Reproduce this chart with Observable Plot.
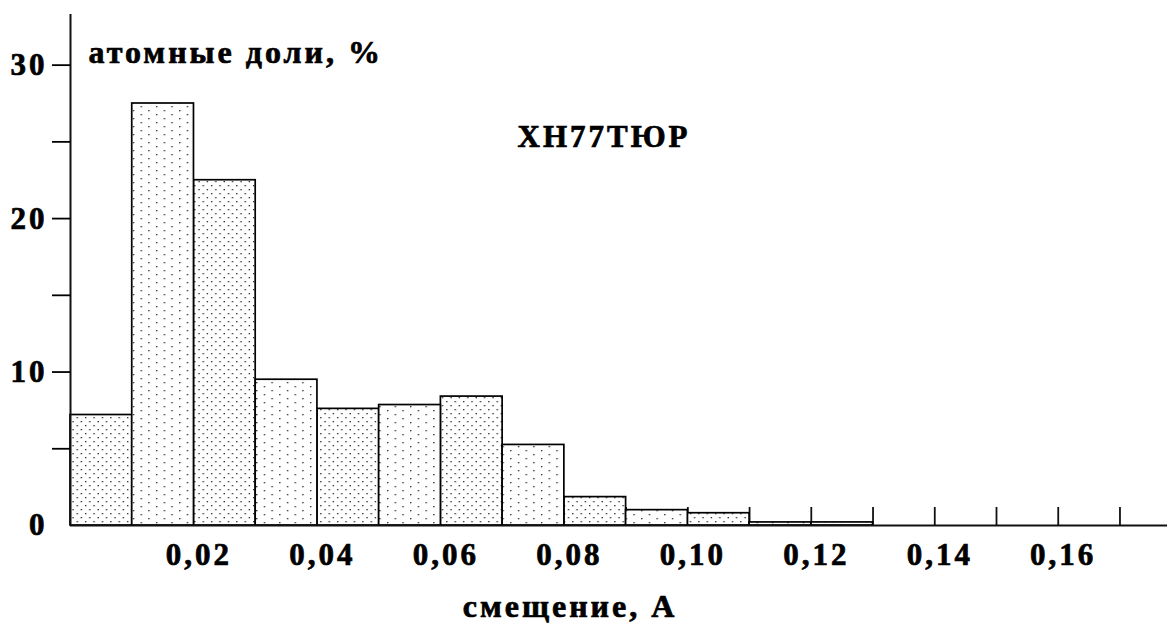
<!DOCTYPE html>
<html><head><meta charset="utf-8">
<script src="https://cdn.jsdelivr.net/npm/d3@7"></script>
<script src="https://cdn.jsdelivr.net/npm/@observablehq/plot@0.6"></script>
<style>
body{margin:0;background:#fff;}
#chart svg, #chart svg text { font-family: "Liberation Serif", "Times New Roman", serif !important; font-weight: bold; }
#chart svg text { letter-spacing: 3px; stroke: #000; stroke-width: 0.7px; }
</style>
</head><body><div id="chart"></div>
<script>
// bins of displacement (Å) and atomic share (%)
const binStart = [0, 0.01, 0.02, 0.03, 0.04, 0.05, 0.06, 0.07, 0.08, 0.09, 0.10, 0.11, 0.12];
const binEnd   = [0.01, 0.02, 0.03, 0.04, 0.05, 0.06, 0.07, 0.08, 0.09, 0.10, 0.11, 0.12, 0.13];
const share    = [7.2, 27.5, 22.5, 9.5, 7.6, 7.85, 8.4, 5.25, 1.85, 1.0, 0.8, 0.2, 0.2];
const xTicks = [0.01,0.02,0.03,0.04,0.05,0.06,0.07,0.08,0.09,0.10,0.11,0.12,0.13,0.14,0.15,0.16,0.17];
const xTickLabels = [0.02, 0.04, 0.06, 0.08, 0.10, 0.12, 0.14, 0.16];
const yTicks = [5, 10, 15, 20, 25, 30];
const yTickLabels = [0, 10, 20, 30];
const yTitle = "атомные доли, %";
const xTitle = "смещение, А";
const alloy = "ХН77ТЮР";

const bars = binStart.map((s, i) => ({x1: s, x2: binEnd[i], y: share[i], i}));
const font = "Liberation Serif";

const plot = Plot.plot({
  width: 1167, height: 624,
  marginLeft: 70, marginRight: 0, marginTop: 14, marginBottom: 99,
  style: {fontFamily: font, fontWeight: "bold", color: "#000", background: "#fff"},
  x: {domain: [0, 0.1777], axis: null},
  y: {domain: [0, 33.3]},
  marks: [
    Plot.tickX(xTicks, {x: d => d, insetTop: 493, stroke: "#111", strokeWidth: 1.8}),
    Plot.rectY(bars.filter(d => d.i % 2 === 0), {x1: "x1", x2: "x2", y: "y", fill: "url(#dotsDense)", stroke: "#000", strokeWidth: 1.7}),
    Plot.rectY(bars.filter(d => d.i % 2 === 1), {x1: "x1", x2: "x2", y: "y", fill: "url(#dotsSparse)", stroke: "#000", strokeWidth: 1.7}),
    Plot.ruleY([0], {stroke: "#111", strokeWidth: 2}),
    Plot.ruleX([0], {stroke: "#111", strokeWidth: 2}),
    Plot.axisY({ticks: yTicks, tickSize: 18, tickFormat: () => "", strokeWidth: 1.8, label: null}),
    Plot.axisY({ticks: yTickLabels, tickSize: 0, tickPadding: 23, fontSize: 31, fontFamily: font, label: null}),
    Plot.text(xTickLabels, {x: d => d, frameAnchor: "bottom", dx: 5, dy: 39, lineAnchor: "bottom",
      text: d => d.toFixed(2).replace(".", ","), fontSize: 31, fontFamily: font, fill: "#000"}),
    Plot.text([yTitle], {frameAnchor: "top-left", dx: 18, dy: 48, textAnchor: "start", lineAnchor: "bottom", fontSize: 32, fontFamily: font, fill: "#000"}),
    Plot.text([alloy], {frameAnchor: "top-left", dx: 447, dy: 132, textAnchor: "start", lineAnchor: "bottom", fontSize: 31, fontFamily: font, fill: "#000"}),
    Plot.text([xTitle], {frameAnchor: "bottom", dx: -49, dy: 91, lineAnchor: "bottom", fontSize: 32, fontFamily: font, fill: "#000"})
  ]
});

const svg = d3.select(plot);
const defs = svg.insert("defs", ":first-child");
const dense = defs.append("pattern").attr("id", "dotsDense").attr("patternUnits", "userSpaceOnUse")
  .attr("width", 8.4).attr("height", 8);
dense.append("rect").attr("width", 8.4).attr("height", 8).attr("fill", "#fff");
dense.append("rect").attr("x", 1).attr("y", 1).attr("width", 1.3).attr("height", 1.3).attr("fill", "#222");
dense.append("rect").attr("x", 5.2).attr("y", 5).attr("width", 1.3).attr("height", 1.3).attr("fill", "#222");
const sparse = defs.append("pattern").attr("id", "dotsSparse").attr("patternUnits", "userSpaceOnUse")
  .attr("width", 15.4).attr("height", 8);
sparse.append("rect").attr("width", 15.4).attr("height", 8).attr("fill", "#fff");
sparse.append("rect").attr("x", 2).attr("y", 2).attr("width", 1.3).attr("height", 1.3).attr("fill", "#222");
sparse.append("rect").attr("x", 9.7).attr("y", 6).attr("width", 1.3).attr("height", 1.3).attr("fill", "#222");

document.getElementById("chart").appendChild(plot);
</script>
</body></html>
